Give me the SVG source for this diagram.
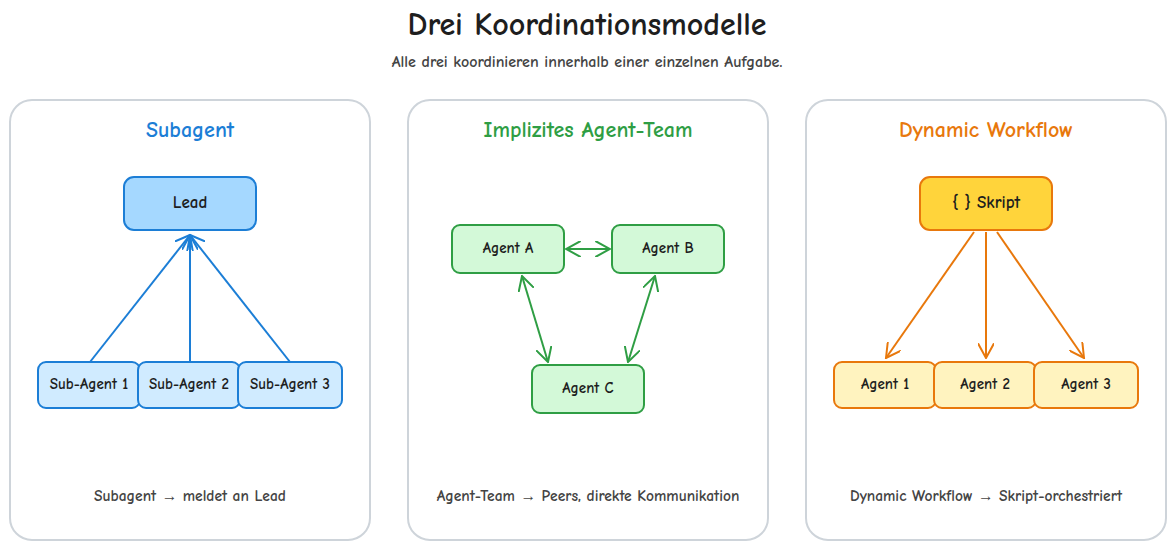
<svg xmlns="http://www.w3.org/2000/svg" width="1176" height="550" viewBox="0 0 1176 550">
<defs>
<style>
text{font-family:"Comic Neue","Liberation Sans",sans-serif;text-anchor:middle;dominant-baseline:middle}
.panel{fill:#fff;stroke:#ced4da;stroke-width:2}
.blue{fill:#d0ebff;stroke:#1c7ed6;stroke-width:2}
.green{fill:#d3f9d8;stroke:#2f9e44;stroke-width:2}
.orange{fill:#fff3bf;stroke:#e8780c;stroke-width:2}
.lbl{font-size:15px;fill:#1e1e1e;font-weight:bold}
.foot{font-size:15.5px;fill:#444;font-weight:bold}
.pt{font-size:22px;font-weight:bold}
</style>
<marker id="ab" viewBox="0 0 12 12" refX="11" refY="6" markerWidth="16" markerHeight="16" orient="auto-start-reverse" markerUnits="userSpaceOnUse"><path d="M0,0 L11,6 L0,12" fill="none" stroke="#1c7ed6" stroke-width="1.5"/></marker>
<marker id="ag" viewBox="0 0 12 12" refX="11" refY="6" markerWidth="16" markerHeight="16" orient="auto-start-reverse" markerUnits="userSpaceOnUse"><path d="M0,0 L11,6 L0,12" fill="none" stroke="#2f9e44" stroke-width="1.5"/></marker>
<marker id="ao" viewBox="0 0 12 12" refX="11" refY="6" markerWidth="16" markerHeight="16" orient="auto-start-reverse" markerUnits="userSpaceOnUse"><path d="M0,0 L11,6 L0,12" fill="none" stroke="#e8780c" stroke-width="1.5"/></marker>
</defs>
<rect width="1176" height="550" fill="#fff"/>
<text x="587" y="27" style="font-size:32px;fill:#1e1e1e;font-weight:bold">Drei Koordinationsmodelle</text>
<text x="587" y="63" style="font-size:16px;fill:#444;font-weight:bold">Alle drei koordinieren innerhalb einer einzelnen Aufgabe.</text>

<g id="panel1"><rect class="panel" x="10" y="100" width="360" height="440" rx="22"/>
<text class="pt" x="190" y="132" style="fill:#1c7ed6">Subagent</text>
<text class="foot" x="190" y="497">Subagent → meldet an Lead</text></g>
<g id="panel2"><rect class="panel" x="408" y="100" width="360" height="440" rx="22"/>
<text class="pt" x="588" y="132" style="fill:#2f9e44">Implizites Agent-Team</text>
<text class="foot" x="588" y="497">Agent-Team → Peers, direkte Kommunikation</text></g>
<g id="panel3"><rect class="panel" x="806" y="100" width="360" height="440" rx="22"/>
<text class="pt" x="986" y="132" style="fill:#e8780c">Dynamic Workflow</text>
<text class="foot" x="986" y="497">Dynamic Workflow → Skript-orchestriert</text></g>

<g id="connectors" fill="none" stroke-width="2">
<path d="M90,362 L190,235" stroke="#1c7ed6" marker-end="url(#ab)"/>
<path d="M190,362 L190,235" stroke="#1c7ed6" marker-end="url(#ab)"/>
<path d="M290,362 L190,235" stroke="#1c7ed6" marker-end="url(#ab)"/>
<path d="M566,249 L610,249" stroke="#2f9e44" marker-start="url(#ag)" marker-end="url(#ag)"/>
<path d="M522,276 L548,362" stroke="#2f9e44" marker-start="url(#ag)" marker-end="url(#ag)"/>
<path d="M655,276 L628,362" stroke="#2f9e44" marker-start="url(#ag)" marker-end="url(#ag)"/>
<path d="M974,232 L886,358" stroke="#e8780c" marker-end="url(#ao)"/>
<path d="M986,232 L986,358" stroke="#e8780c" marker-end="url(#ao)"/>
<path d="M997,232 L1084,358" stroke="#e8780c" marker-end="url(#ao)"/>
</g>

<g id="lead"><rect class="blue" x="124" y="177" width="132" height="53" rx="10" style="fill:#a5d8ff"/><text class="lbl" x="190" y="204" style="font-size:17px">Lead</text></g>
<g id="sub1"><rect class="blue" x="38" y="362" width="102" height="46" rx="8"/><text class="lbl" x="89" y="385">Sub-Agent 1</text></g>
<g id="sub2"><rect class="blue" x="138" y="362" width="102" height="46" rx="8"/><text class="lbl" x="189" y="385">Sub-Agent 2</text></g>
<g id="sub3"><rect class="blue" x="238" y="362" width="104" height="46" rx="8"/><text class="lbl" x="290" y="385">Sub-Agent 3</text></g>

<g id="agentA"><rect class="green" x="452" y="225" width="112" height="48" rx="8"/><text class="lbl" x="508" y="249">Agent A</text></g>
<g id="agentB"><rect class="green" x="612" y="225" width="112" height="48" rx="8"/><text class="lbl" x="668" y="249">Agent B</text></g>
<g id="agentC"><rect class="green" x="532" y="365" width="112" height="48" rx="8"/><text class="lbl" x="588" y="389">Agent C</text></g>

<g id="skript"><rect class="orange" x="920" y="177" width="132" height="53" rx="10" style="fill:#ffd43b"/><text class="lbl" x="986" y="204" style="font-size:17px">{ }  Skript</text></g>
<g id="w1"><rect class="orange" x="834" y="362" width="102" height="46" rx="8"/><text class="lbl" x="885" y="385">Agent 1</text></g>
<g id="w2"><rect class="orange" x="934" y="362" width="102" height="46" rx="8"/><text class="lbl" x="985" y="385">Agent 2</text></g>
<g id="w3"><rect class="orange" x="1034" y="362" width="104" height="46" rx="8"/><text class="lbl" x="1086" y="385">Agent 3</text></g>
</svg>
